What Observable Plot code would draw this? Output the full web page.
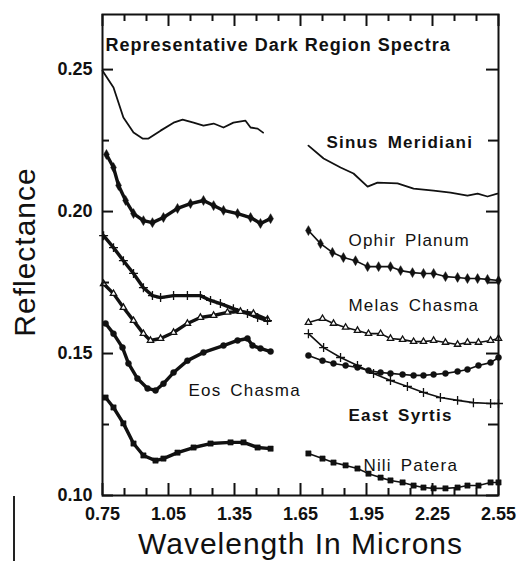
<!DOCTYPE html>
<html><head><meta charset="utf-8">
<script src="https://cdn.jsdelivr.net/npm/d3@7"></script>
<script src="https://cdn.jsdelivr.net/npm/@observablehq/plot@0.6"></script>
<style>
body{margin:0;background:#fff;}
#wrap{position:relative;width:525px;height:561px;}
#scan{position:absolute;left:13px;top:496px;width:2px;height:65px;background:#222;}
</style></head><body><div id="wrap"><div id="scan"></div></div>
<script>
// ---- data (wavelength in microns, reflectance) ----
const sinusLeftW  = [0.75,0.80,0.845,0.891,0.932,0.959,1.014,1.073,1.114,1.164,1.209,1.255,1.30,1.345,1.40,1.423,1.455,1.48];
const sinusLeftR  = [0.2496,0.2437,0.2331,0.2278,0.2257,0.2257,0.2285,0.2313,0.2324,0.2313,0.2303,0.2310,0.2296,0.2313,0.2320,0.2296,0.2292,0.2278];
const sinusRightW = [1.686,1.755,1.832,1.891,1.955,2.0,2.091,2.164,2.255,2.332,2.409,2.455,2.50,2.545];
const sinusRightR = [0.2232,0.2187,0.2155,0.2134,0.2088,0.2102,0.2099,0.2081,0.2074,0.2067,0.2056,0.2063,0.2053,0.2063];

const ophirLeftW  = [0.768,0.80,0.823,0.855,0.891,0.936,0.977,1.027,1.091,1.15,1.209,1.255,1.30,1.364,1.423,1.468,1.514];
const ophirLeftR  = [0.2201,0.2155,0.2092,0.2039,0.1993,0.1968,0.1961,0.1979,0.2011,0.2028,0.2039,0.2021,0.2004,0.1993,0.1979,0.1958,0.1975];
const ophirRightW = [1.686,1.741,1.795,1.845,1.90,1.955,2.005,2.059,2.105,2.159,2.209,2.255,2.309,2.364,2.409,2.455,2.50,2.55];
const ophirRightR = [0.1933,0.1887,0.1856,0.1838,0.1827,0.1806,0.1806,0.1806,0.1792,0.1785,0.1782,0.1782,0.1771,0.1768,0.1764,0.1764,0.1761,0.1757];

const melasLeftW  = [0.755,0.80,0.845,0.891,0.936,0.968,1.014,1.073,1.136,1.195,1.255,1.318,1.377,1.436,1.50];
const melasLeftR  = [0.1746,0.1711,0.1662,0.1616,0.1570,0.1546,0.1553,0.1574,0.1606,0.1627,0.1634,0.1645,0.1648,0.1641,0.1620];
const melasRightW = [1.686,1.75,1.80,1.855,1.909,1.959,2.014,2.059,2.114,2.164,2.209,2.255,2.309,2.364,2.409,2.459,2.514,2.55];
const melasRightR = [0.1609,0.1623,0.1606,0.1592,0.1581,0.1570,0.1570,0.1553,0.1549,0.1542,0.1542,0.1546,0.1539,0.1532,0.1539,0.1539,0.1546,0.1553];

const syrtisLeftW  = [0.755,0.80,0.845,0.891,0.936,0.977,1.014,1.073,1.136,1.195,1.241,1.286,1.345,1.409,1.455,1.50];
const syrtisLeftR  = [0.1915,0.1873,0.1827,0.1782,0.1732,0.1704,0.1697,0.1704,0.1704,0.1704,0.1687,0.1676,0.1658,0.1641,0.1627,0.1616];
const syrtisRightW = [1.686,1.755,1.832,1.909,1.982,2.059,2.136,2.209,2.286,2.364,2.436,2.514,2.55];
const syrtisRightR = [0.1570,0.1521,0.1486,0.1458,0.1430,0.1405,0.1384,0.1363,0.1345,0.1335,0.1327,0.1324,0.1324];

const eosLeftW  = [0.764,0.80,0.841,0.868,0.909,0.955,0.991,1.027,1.073,1.136,1.209,1.30,1.364,1.409,1.432,1.468,1.514];
const eosLeftR  = [0.1606,0.1570,0.1521,0.1465,0.1412,0.1377,0.1370,0.1394,0.1433,0.1475,0.1504,0.1528,0.1546,0.1553,0.1528,0.1518,0.1507];
const eosRightW = [1.686,1.75,1.80,1.855,1.909,1.959,2.014,2.059,2.114,2.164,2.209,2.255,2.309,2.364,2.409,2.459,2.514,2.55];
const eosRightR = [0.1493,0.1475,0.1465,0.1458,0.1451,0.1440,0.1433,0.1430,0.1426,0.1423,0.1423,0.1426,0.1430,0.1437,0.1444,0.1458,0.1468,0.1486];

const niliLeftW  = [0.764,0.80,0.845,0.891,0.936,0.991,1.027,1.091,1.164,1.241,1.332,1.391,1.455,1.514];
const niliLeftR  = [0.1345,0.1310,0.1254,0.1183,0.1141,0.1123,0.1130,0.1151,0.1169,0.1183,0.1187,0.1187,0.1169,0.1165];
const niliRightW = [1.686,1.75,1.80,1.855,1.909,1.959,2.014,2.059,2.114,2.164,2.209,2.255,2.309,2.364,2.409,2.459,2.514,2.55];
const niliRightR = [0.1148,0.1130,0.1116,0.1106,0.1095,0.1077,0.1063,0.1053,0.1046,0.1035,0.1028,0.1025,0.1025,0.1028,0.1035,0.1035,0.1046,0.1046];

// labels (text, start wavelength, baseline reflectance)
const labelText = ["Representative Dark Region Spectra","Sinus Meridiani","Ophir Planum","Melas Chasma","Eos Chasma","East Syrtis","Nili Patera"];
const labelW    = [0.764,1.768,1.868,1.868,1.141,1.868,1.936];
const labelR    = [0.2567,0.2225,0.1880,0.1651,0.1349,0.1264,0.1088];
const labelBold = [true,true,false,false,false,true,false];

// ticks
const xMajor = [0.75,1.05,1.35,1.65,1.95,2.25,2.55];
const xMinor = [0.85,0.95,1.15,1.25,1.45,1.55,1.75,1.85,2.05,2.15,2.35,2.45];
const yMajor = [0.10,0.15,0.20,0.25];
const yMinor = [0.125,0.175,0.225];

// ---- build tables ----
function seg(name, part, W, R) { return W.map((w, i) => ({name, part, key: name + part, w, r: R[i]})); }
const series = [
  {name: "Sinus Meridiani", L: [sinusLeftW, sinusLeftR], Rt: [sinusRightW, sinusRightR]},
  {name: "Ophir Planum", L: [ophirLeftW, ophirLeftR], Rt: [ophirRightW, ophirRightR]},
  {name: "Melas Chasma", L: [melasLeftW, melasLeftR], Rt: [melasRightW, melasRightR]},
  {name: "East Syrtis", L: [syrtisLeftW, syrtisLeftR], Rt: [syrtisRightW, syrtisRightR]},
  {name: "Eos Chasma", L: [eosLeftW, eosLeftR], Rt: [eosRightW, eosRightR]},
  {name: "Nili Patera", L: [niliLeftW, niliLeftR], Rt: [niliRightW, niliRightR]}
];
const rows = series.flatMap(s => [...seg(s.name, "L", ...s.L), ...seg(s.name, "R", ...s.Rt)]);
const labels = labelText.map((t, i) => ({t, w: labelW[i], r: labelR[i], bold: labelBold[i], title: i === 0}));
const sym = {"Ophir Planum": "diamond", "Melas Chasma": "triangle2", "East Syrtis": "plus", "Eos Chasma": "circle", "Nili Patera": "square"};
const fmt2 = d => d.toFixed(2);

const W = 525, H = 561, mL = 102, mR = 27, mT = 14, mB = 66;
const fw = W - mL - mR, fh = H - mT - mB;

const marks = [
  Plot.line(rows.filter(d => d.name === "Sinus Meridiani"), {x: "w", y: "r", z: "key", stroke: "#111", strokeWidth: 1.8}),
  Plot.line(rows.filter(d => d.name !== "Sinus Meridiani" && d.part === "L"), {x: "w", y: "r", z: "key", stroke: "#111", strokeWidth: 3.4}),
  Plot.line(rows.filter(d => d.name !== "Sinus Meridiani" && d.part === "R"), {x: "w", y: "r", z: "key", stroke: "#111", strokeWidth: 1.6}),
];
for (const [name, s] of Object.entries(sym)) {
  const data = rows.filter(d => d.name === name);
  const filled = ["diamond","circle","square"].includes(s);
  marks.push(Plot.dot(data, {x: "w", y: "r", symbol: () => s, r: 3,
    fill: filled ? "#111" : "white", stroke: "#111", strokeWidth: filled ? 0.5 : 1.3}));
}
marks.push(
  Plot.frame({stroke: "#111", strokeWidth: 2}),
  // inward ticks on all four sides
  Plot.ruleX(xMajor, {x: d => d, insetTop: fh - 12, stroke: "#111", strokeWidth: 2}),
  Plot.ruleX(xMinor, {x: d => d, insetTop: fh - 7, stroke: "#111", strokeWidth: 2}),
  Plot.ruleX(xMajor, {x: d => d, insetBottom: fh - 12, stroke: "#111", strokeWidth: 2}),
  Plot.ruleX(xMinor, {x: d => d, insetBottom: fh - 7, stroke: "#111", strokeWidth: 2}),
  Plot.ruleY(yMajor, {y: d => d, insetRight: fw - 11, stroke: "#111", strokeWidth: 2}),
  Plot.ruleY(yMinor, {y: d => d, insetRight: fw - 7, stroke: "#111", strokeWidth: 2}),
  Plot.ruleY(yMajor, {y: d => d, insetLeft: fw - 12, stroke: "#111", strokeWidth: 2}),
  Plot.ruleY(yMinor, {y: d => d, insetLeft: fw - 10, stroke: "#111", strokeWidth: 2}),
  // tick labels
  Plot.axisX(xMajor, {anchor: "bottom", tickSize: 0, tickPadding: 12, tickFormat: fmt2, label: null, fontSize: 18, fontWeight: "bold", fill: "#111"}),
  Plot.axisY(yMajor, {anchor: "left", tickSize: 0, tickPadding: 10, tickFormat: fmt2, label: null, fontSize: 18, fontWeight: "bold", fill: "#111"}),
  // in-plot labels
  Plot.text(labels.filter(d => d.title), {x: "w", y: "r", text: "t", textAnchor: "start", lineAnchor: "bottom", fontSize: 18, fontWeight: "bold", fill: "#111"}),
  Plot.text(labels.filter(d => d.bold && !d.title), {x: "w", y: "r", text: "t", textAnchor: "start", lineAnchor: "bottom", fontSize: 17, fontWeight: "bold", fill: "#111"}),
  Plot.text(labels.filter(d => !d.bold), {x: "w", y: "r", text: "t", textAnchor: "start", lineAnchor: "bottom", fontSize: 17, fill: "#111"}),
  // axis titles
  Plot.text(["Wavelength In Microns"], {frameAnchor: "bottom", dy: 58, text: d => d, textAnchor: "middle", lineAnchor: "bottom", fontSize: 30, fill: "#111"}),
  Plot.text(["Reflectance"], {frameAnchor: "left", dx: -68, dy: -3, rotate: -90, text: d => d, textAnchor: "middle", lineAnchor: "bottom", fontSize: 30, fill: "#111"})
);

const chart = Plot.plot({
  width: W, height: H,
  marginLeft: mL, marginRight: mR, marginTop: mT, marginBottom: mB,
  x: {domain: [0.75, 2.55], axis: null},
  y: {domain: [0.10, 0.2694], axis: null},
  style: {fontFamily: "'Liberation Sans', Arial, sans-serif", background: "white", color: "#111"},
  marks
});
// letter/word spacing to match the wide typewriter-like lettering of the original
d3.select(chart).selectAll("text").each(function() {
  const t = this.textContent;
  const el = d3.select(this);
  if (t === labelText[0]) el.style("letter-spacing", "1px");
  else if (labelText.includes(t)) el.style("letter-spacing", "1.2px").style("word-spacing", "3px");
  else if (t === "Wavelength In Microns" || t === "Reflectance") el.style("letter-spacing", "1px");
});
document.getElementById("wrap").prepend(chart);
</script>
</body></html>
